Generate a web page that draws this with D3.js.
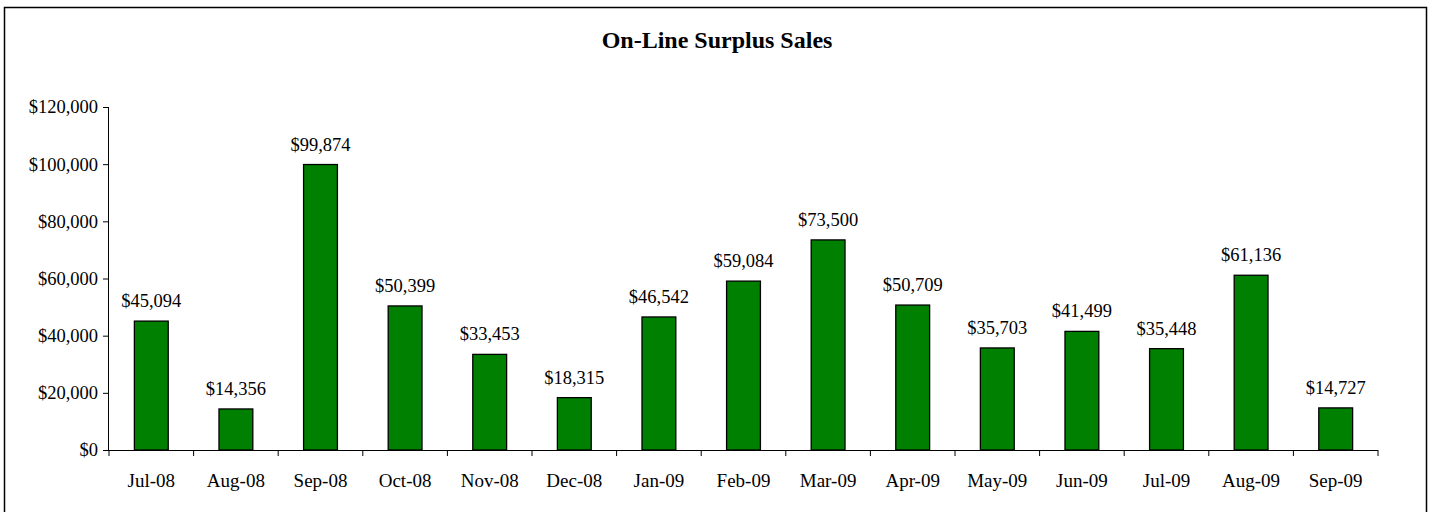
<!DOCTYPE html>
<html>
<head>
<meta charset="utf-8">
<script src="https://cdn.jsdelivr.net/npm/d3@7"></script>
<style>
  body { margin: 0; background: #fff; }
  svg { display: block; font-family: "Liberation Serif", "Times New Roman", serif; }
</style>
</head>
<body>
<svg id="chart"></svg>
<script>
// data
const months = ['Jul-08', 'Aug-08', 'Sep-08', 'Oct-08', 'Nov-08', 'Dec-08', 'Jan-09',
  'Feb-09', 'Mar-09', 'Apr-09', 'May-09', 'Jun-09', 'Jul-09', 'Aug-09', 'Sep-09'];
const sales = [45094, 14356, 99874, 50399, 33453, 18315, 46542,
  59084, 73500, 50709, 35703, 41499, 35448, 61136, 14727];
const yTicks = [0, 20000, 40000, 60000, 80000, 100000, 120000];

const W = 1432, H = 512;
const margin = { top: 107, right: 54, bottom: 62, left: 109 };
const width = W - margin.left - margin.right;
const height = H - margin.top - margin.bottom;
const serif = '"Liberation Serif", "Times New Roman", serif';

const svg = d3.select('#chart').attr('width', W).attr('height', H);

// outer frame (bottom edge falls outside the picture)
svg.append('rect')
  .attr('x', 4.5).attr('y', 7.5)
  .attr('width', 1422).attr('height', 512)
  .attr('fill', 'none').attr('stroke', '#000').attr('stroke-width', 1.5);

svg.append('text')
  .attr('x', 717).attr('y', 48)
  .attr('text-anchor', 'middle')
  .style('font-size', '24px').style('font-weight', 'bold')
  .text('On-Line Surplus Sales');

const g = svg.append('g').attr('transform', `translate(${margin.left},${margin.top})`);

const x = d3.scaleBand().domain(months).range([0, width]).padding(0);
const y = d3.scaleLinear().domain([0, 120000]).range([height, 0]);
const fmt = d3.format('$,');

// y axis
const yAxis = g.append('g')
  .call(d3.axisLeft(y).tickValues(yTicks).tickFormat(fmt).tickSize(6).tickPadding(5));
yAxis.attr('font-family', serif).attr('font-size', 18.5);
yAxis.select('.domain').attr('stroke', '#000').attr('d', `M-0.5,0V${height}`);
yAxis.selectAll('.tick text').attr('fill', '#000');

// bars
const bw = x.bandwidth() * 0.4;
g.selectAll('rect.bar')
  .data(sales)
  .enter()
  .append('rect')
  .attr('class', 'bar')
  .attr('x', (d, i) => x(months[i]) + (x.bandwidth() - bw) / 2)
  .attr('y', (d) => y(d))
  .attr('width', bw)
  .attr('height', (d) => height - y(d))
  .attr('fill', '#008000')
  .attr('stroke', '#000')
  .attr('stroke-width', 1.3);

// value labels
g.selectAll('text.val')
  .data(sales)
  .enter()
  .append('text')
  .attr('class', 'val')
  .attr('x', (d, i) => x(months[i]) + x.bandwidth() / 2)
  .attr('y', (d) => y(d) - 14)
  .attr('text-anchor', 'middle')
  .style('font-size', '18.5px')
  .text((d) => fmt(d));

// x axis: ticks between categories
const xAxisGrp = g.append('g').attr('transform', `translate(0,${height})`);
xAxisGrp.append('line')
  .attr('x1', 0).attr('x2', width)
  .attr('y1', 0.5).attr('y2', 0.5)
  .attr('stroke', '#000');
xAxisGrp.selectAll('line.tk')
  .data(months.concat(['end']))
  .enter()
  .append('line')
  .attr('class', 'tk')
  .attr('x1', (d, i) => i < months.length ? x(d) : width)
  .attr('x2', (d, i) => i < months.length ? x(d) : width)
  .attr('y1', 0).attr('y2', 6)
  .attr('stroke', '#000');
xAxisGrp.selectAll('text')
  .data(months)
  .enter()
  .append('text')
  .attr('x', (d) => x(d) + x.bandwidth() / 2)
  .attr('y', 37)
  .attr('text-anchor', 'middle')
  .style('font-size', '19px')
  .text((d) => d);
</script>
</body>
</html>
